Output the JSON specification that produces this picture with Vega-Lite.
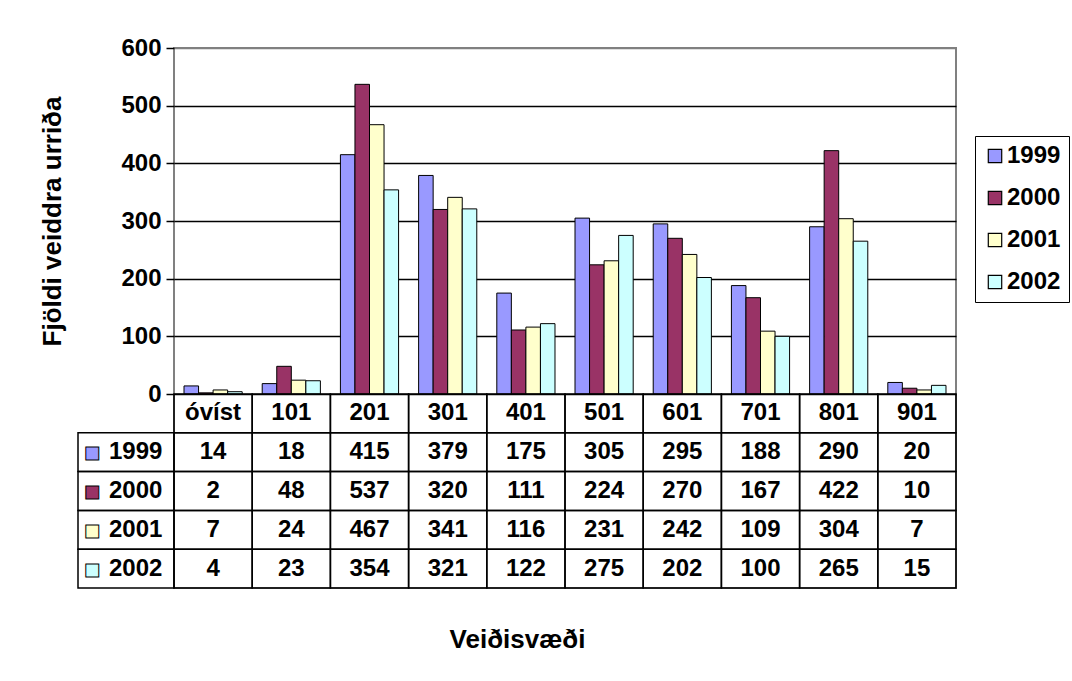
{
  "$schema": "https://vega.github.io/schema/vega-lite/v6.json",
  "width": 782,
  "height": 540,
  "autosize": {"type": "none"},
  "padding": {"left": 174, "top": 48, "right": 116, "bottom": 93},
  "background": "white",
  "config": {
    "font": "Liberation Sans",
    "view": {"stroke": "#808080", "strokeWidth": 2}
  },
  "datasets": {
    "fish": [
      {"area": "óvíst", "year": "1999", "n": 14}, {"area": "óvíst", "year": "2000", "n": 2}, {"area": "óvíst", "year": "2001", "n": 7}, {"area": "óvíst", "year": "2002", "n": 4},
      {"area": "101", "year": "1999", "n": 18}, {"area": "101", "year": "2000", "n": 48}, {"area": "101", "year": "2001", "n": 24}, {"area": "101", "year": "2002", "n": 23},
      {"area": "201", "year": "1999", "n": 415}, {"area": "201", "year": "2000", "n": 537}, {"area": "201", "year": "2001", "n": 467}, {"area": "201", "year": "2002", "n": 354},
      {"area": "301", "year": "1999", "n": 379}, {"area": "301", "year": "2000", "n": 320}, {"area": "301", "year": "2001", "n": 341}, {"area": "301", "year": "2002", "n": 321},
      {"area": "401", "year": "1999", "n": 175}, {"area": "401", "year": "2000", "n": 111}, {"area": "401", "year": "2001", "n": 116}, {"area": "401", "year": "2002", "n": 122},
      {"area": "501", "year": "1999", "n": 305}, {"area": "501", "year": "2000", "n": 224}, {"area": "501", "year": "2001", "n": 231}, {"area": "501", "year": "2002", "n": 275},
      {"area": "601", "year": "1999", "n": 295}, {"area": "601", "year": "2000", "n": 270}, {"area": "601", "year": "2001", "n": 242}, {"area": "601", "year": "2002", "n": 202},
      {"area": "701", "year": "1999", "n": 188}, {"area": "701", "year": "2000", "n": 167}, {"area": "701", "year": "2001", "n": 109}, {"area": "701", "year": "2002", "n": 100},
      {"area": "801", "year": "1999", "n": 290}, {"area": "801", "year": "2000", "n": 422}, {"area": "801", "year": "2001", "n": 304}, {"area": "801", "year": "2002", "n": 265},
      {"area": "901", "year": "1999", "n": 20}, {"area": "901", "year": "2000", "n": 10}, {"area": "901", "year": "2001", "n": 7}, {"area": "901", "year": "2002", "n": 15}
    ]
  },
  "data": {"name": "fish"},
  "layer": [
    {
      "mark": {"type": "bar", "stroke": "black", "strokeWidth": 1},
      "encoding": {
        "x": {"field": "area", "type": "nominal", "sort": null,
              "scale": {"domain": ["óvíst","101","201","301","401","501","601","701","801","901"], "paddingInner": 0.256, "paddingOuter": 0.128},
              "axis": null},
        "xOffset": {"field": "year", "type": "nominal", "scale": {"paddingInner": 0, "paddingOuter": 0}},
        "y": {"field": "n", "type": "quantitative",
              "scale": {"domain": [0, 600], "range": [346, 0], "nice": false, "zero": true},
              "axis": {
                "values": [0, 100, 200, 300, 400, 500, 600],
                "domain": false,
                "tickColor": "black", "tickSize": 8, "tickWidth": 1.5,
                "labelFontSize": 24, "labelFontWeight": "bold", "labelColor": "black", "labelPadding": 5,
                "grid": true, "gridColor": {"condition": {"test": "datum.value === 600", "value": "#808080"}, "value": "black"}, "gridWidth": 1.3, "gridOpacity": 1,
                "title": "Fjöldi veiddra urriða", "titleFontSize": 26, "titleFontWeight": "bold", "titleColor": "black", "titlePadding": 55
              }},
        "color": {"field": "year", "type": "nominal",
                  "scale": {"domain": ["1999","2000","2001","2002"], "range": ["#9999FF","#993366","#FFFFCC","#CCFFFF"]},
                  "legend": {
                    "orient": "none", "legendX": 801, "legendY": 88, "title": null,
                    "strokeColor": "black", "padding": 8,
                    "symbolType": "square", "symbolSize": 180, "symbolStrokeColor": "black", "symbolStrokeWidth": 1.2, "symbolOpacity": 1,
                    "labelFontSize": 24, "labelFontWeight": "bold", "labelColor": "black", "labelOffset": 0,
                    "rowPadding": 18
                  }}
      }
    },
    {
      "mark": {"type": "rect", "fill": "white", "fillOpacity": 0, "stroke": "black", "strokeWidth": 1.5},
      "encoding": {
        "x": {"field": "area", "type": "nominal", "scale": {"domain": ["óvíst","101","201","301","401","501","601","701","801","901"], "paddingInner": 0, "paddingOuter": 0},
              "axis": {"labels": false, "ticks": false, "domain": false, "grid": false, "title": "Veiðisvæði", "titleFontSize": 26, "titleFontWeight": "bold", "titleColor": "black", "titleX": 343, "titlePadding": 38}},
        "y": {"field": "year", "type": "nominal", "scale": {"domain": ["h","1999","2000","2001","2002"], "range": [346, 540], "paddingInner": 0, "paddingOuter": 0}, "axis": null}
      }
    },
    {
      "mark": {"type": "text", "fontSize": 24, "fontWeight": "bold", "color": "black", "baseline": "middle", "align": "center"},
      "encoding": {
        "x": {"field": "area", "type": "nominal", "scale": {"domain": ["óvíst","101","201","301","401","501","601","701","801","901"], "paddingInner": 0, "paddingOuter": 0}, "axis": null},
        "y": {"field": "year", "type": "nominal", "scale": {"domain": ["h","1999","2000","2001","2002"], "range": [346, 540], "paddingInner": 0, "paddingOuter": 0}, "axis": null},
        "text": {"field": "n", "type": "quantitative"}
      }
    },
    {
      "transform": [{"filter": "datum.year === '1999'"}],
      "mark": {"type": "rect", "fill": "white", "fillOpacity": 0, "stroke": "black", "strokeWidth": 1.5},
      "encoding": {
        "x": {"field": "area", "type": "nominal", "scale": {"domain": ["óvíst","101","201","301","401","501","601","701","801","901"], "paddingInner": 0, "paddingOuter": 0}, "axis": null},
        "y": {"datum": "h", "type": "nominal", "scale": {"domain": ["h","1999","2000","2001","2002"], "range": [346, 540], "paddingInner": 0, "paddingOuter": 0}, "axis": null}
      }
    },
    {
      "transform": [{"filter": "datum.year === '1999'"}],
      "mark": {"type": "text", "fontSize": 24, "fontWeight": "bold", "color": "black", "baseline": "middle", "align": "center"},
      "encoding": {
        "x": {"field": "area", "type": "nominal", "scale": {"domain": ["óvíst","101","201","301","401","501","601","701","801","901"], "paddingInner": 0, "paddingOuter": 0}, "axis": null},
        "y": {"datum": "h", "type": "nominal", "scale": {"domain": ["h","1999","2000","2001","2002"], "range": [346, 540], "paddingInner": 0, "paddingOuter": 0}, "axis": null},
        "text": {"field": "area", "type": "nominal"}
      }
    },
    {
      "transform": [{"filter": "datum.area === 'óvíst'"}],
      "mark": {"type": "rect", "fill": "white", "fillOpacity": 0, "stroke": "black", "strokeWidth": 1.5},
      "encoding": {
        "x": {"datum": "leg", "type": "nominal", "scale": {"domain": ["leg"], "range": [-96, 0], "paddingInner": 0, "paddingOuter": 0}, "axis": null},
        "y": {"field": "year", "type": "nominal", "scale": {"domain": ["h","1999","2000","2001","2002"], "range": [346, 540], "paddingInner": 0, "paddingOuter": 0}, "axis": null}
      }
    },
    {
      "transform": [{"filter": "datum.area === 'óvíst'"}],
      "mark": {"type": "text", "text": "■", "font": "DejaVu Sans", "fontSize": 17, "align": "center", "baseline": "middle", "dx": -34, "dy": 1, "stroke": "black", "strokeWidth": 1},
      "encoding": {
        "x": {"datum": "leg", "type": "nominal", "scale": {"domain": ["leg"], "range": [-96, 0], "paddingInner": 0, "paddingOuter": 0}, "axis": null},
        "y": {"field": "year", "type": "nominal", "scale": {"domain": ["h","1999","2000","2001","2002"], "range": [346, 540], "paddingInner": 0, "paddingOuter": 0}, "axis": null},
        "color": {"field": "year", "type": "nominal", "legend": null}
      }
    },
    {
      "transform": [{"filter": "datum.area === 'óvíst'"}],
      "mark": {"type": "text", "fontSize": 24, "fontWeight": "bold", "color": "black", "baseline": "middle", "align": "left", "dx": -17},
      "encoding": {
        "x": {"datum": "leg", "type": "nominal", "scale": {"domain": ["leg"], "range": [-96, 0], "paddingInner": 0, "paddingOuter": 0}, "axis": null},
        "y": {"field": "year", "type": "nominal", "scale": {"domain": ["h","1999","2000","2001","2002"], "range": [346, 540], "paddingInner": 0, "paddingOuter": 0}, "axis": null},
        "text": {"field": "year", "type": "nominal"}
      }
    }
  ],
  "resolve": {"scale": {"x": "independent", "y": "independent"}}
}
